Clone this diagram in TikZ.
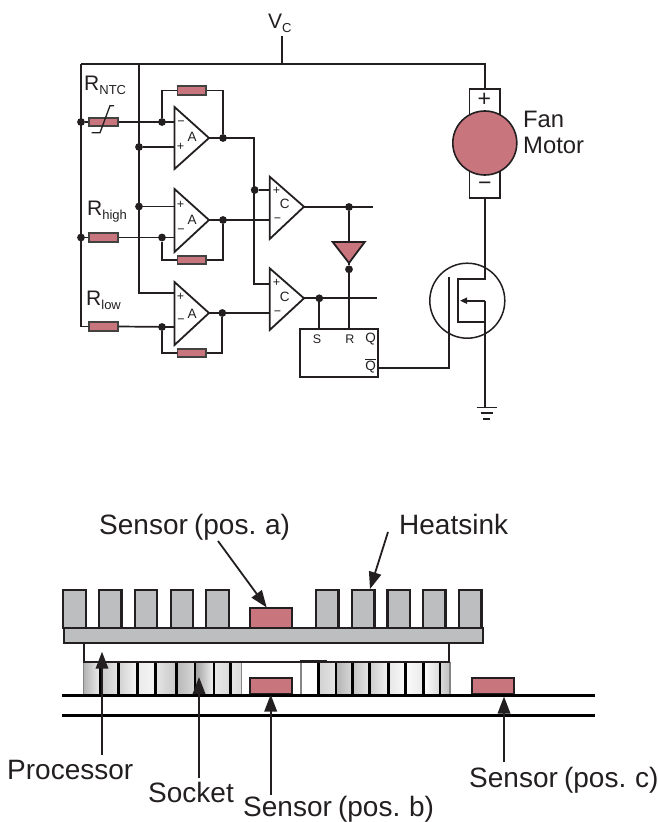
\documentclass[tikz,border=0pt]{standalone}
\usepackage{fontspec}
\setmainfont{Liberation Sans}
\usetikzlibrary{arrows.meta}
\definecolor{ink}{HTML}{231F20}
\definecolor{rose}{HTML}{C9757D}
\definecolor{fin}{HTML}{BCBEC0}
\newcommand{\fs}[1]{\fontsize{#1}{#1}\selectfont}
\newcommand{\sublabel}[2]{\fs{21}#1\raisebox{-4.5pt}{\fs{13}#2}}
\newcommand{\tight}{\kern-1.6pt}
\tikzset{
  wire/.style={draw=ink,line width=1.7pt},
  res/.style={draw=ink!85,fill=rose,line width=1.8pt,minimum width=28.5pt,minimum height=8.5pt,inner sep=0pt},
  dot/.style={circle,fill=ink,minimum size=7.8pt,inner sep=0pt},
  amp/.style={draw=ink,line width=1.8pt,fill=white,line join=miter},
  sgn/.style={text=ink,inner sep=0pt,font=\fs{12.5}},
  big/.style={text=ink,inner sep=0pt,font=\fs{28},anchor=base west},
  mid/.style={text=ink,inner sep=0pt,font=\fs{23.8},anchor=base west},
  lab/.style={text=ink,inner sep=0pt,anchor=base west},
  ptr/.style={draw=ink,line width=1.8pt,-{Triangle[length=17pt,width=12.5pt]}},
  finbox/.style={draw=ink,fill=fin,line width=2.3pt},
  board/.style={draw=black,line width=3pt},
  pin/.style={draw=black,line width=2.6pt},
  sens/.style={draw=ink,fill=rose,line width=2.2pt},
}
\begin{document}
\begin{tikzpicture}[x=1pt,y=-1pt]
\useasboundingbox (0,0) rectangle (658,822);
% ---- rails
\coordinate (tl) at (81,64);
\coordinate (tm) at (139,64);
\coordinate (tv) at (282,64);
\coordinate (tr) at (484.8,64);
\coordinate (vtop) at (282,36);
\node[lab] (vc) at (268,28) {\sublabel{V}{C}};
\draw[wire] (vtop) -- (tv);
\draw[wire] (tl) -- (tr) -- (484.8,89);
% resistors
\node[res] (rn) at (103.5,122) {};
\node[res] (rh) at (103.5,237.5) {};
\node[res] (rl) at (103.5,326.5) {};
\node[res] (f1) at (191.7,90.5) {};
\node[res] (f2) at (191.7,260) {};
\node[res] (f3) at (191.7,353) {};
% dots
\node[dot] (d1) at (81,122) {};
\node[dot] (d2) at (81,237.5) {};
\node[dot] (i1) at (162,122) {};
\node[dot] (i2) at (162,237.5) {};
\node[dot] (i3) at (162,327) {};
\node[dot] (p1) at (139,147) {};
\node[dot] (p2) at (139,206.5) {};
\node[dot] (o1) at (223,138) {};
\node[dot] (o2) at (223,220) {};
\node[dot] (o3) at (222.3,313) {};
\node[dot] (j1) at (254.7,190) {};
\node[dot] (q1) at (349,207) {};
\node[dot] (q2) at (319.3,298.3) {};
\node[dot] (q3) at (349,269.3) {};
% left rail and second rail
\draw[wire] (tl) -- (81,326.5) -- (rl.west);
\draw[wire] (tm) -- (139,293.3) -- (174.5,293.3);
\draw[wire] (d1) -- (rn.west);
\draw[wire] (d2) -- (rh.west);
\draw[wire] (rn.east) -- (174.5,122);
\draw[wire] (rh.east) -- (174.5,237.5);
\draw[wire] (rl.east) -- (174.5,327);
\draw[wire] (p1) -- (174.5,147);
\draw[wire] (p2) -- (174.5,206.5);
% feedback
\draw[wire] (i1) |- (f1.west);
\draw[wire] (f1.east) -| (o1);
\draw[wire] (i2) |- (f2.west);
\draw[wire] (f2.east) -| (o2);
\draw[wire] (i3) |- (f3.west);
\draw[wire] (f3.east) -| (o3);
% thermistor slash
\draw[wire,line width=1.3pt] (91.7,132.7) -- (100,132.7) -- (110,105.7) -- (114,105.7);
% op-amp outputs
\draw[wire] (209,138) -- (253.7,138) -- (253.7,284) -- (269.7,284);
\draw[wire] (j1) -- (269.7,190);
\draw[wire] (209,220) -- (269.7,220);
\draw[wire] (209,313) -- (269.7,313);
% op-amps
\draw[amp] (174.5,107) coordinate (a1t) -- (209,138) coordinate (a1o) -- (174.5,169) -- cycle;
\draw[amp] (174.5,189) coordinate (a2t) -- (209,220) coordinate (a2o) -- (174.5,252) -- cycle;
\draw[amp] (174.5,282) coordinate (a3t) -- (209,313) coordinate (a3o) -- (174.5,345) -- cycle;
\draw[amp] (269.7,176.7) -- (304,206.7) coordinate (c1o) -- (269.7,239) -- cycle;
\draw[amp] (269.7,268.3) -- (304,298.3) coordinate (c2o) -- (269.7,330) -- cycle;
\foreach \n/\x/\y/\t in {a/192/136.7/A,b/192/220.3/A,c/192/313.5/A,d/284.7/204/C,e/284.7/296.5/C}{
  \node[sgn,font=\fs{13.5}] (t\n) at (\x,\y) {\t};
}
\foreach \n/\x/\y/\t in {a/181/123/−,b/180.5/146.5/+,c/180.5/204.5/+,d/181/231/−,e/180.5/297/+,f/181/321/−,g/276.5/190.5/+,h/277.5/220/−,i/276.5/283/+,j/277.5/313/−}{
  \node[sgn] (s\n) at (\x,\y) {\t};
}
% R labels
\node[lab] (lrn) at (84,90) {\sublabel{R}{NTC}};
\node[lab] (lrh) at (87,215) {\sublabel{R}{high}};
\node[lab] (lrl) at (86,305) {\sublabel{R}{low}};
% comparator outputs and logic
\coordinate (e1) at (372.7,206.7);
\coordinate (e2) at (376.7,298.3);
\draw[wire] (c1o) -- (e1);
\draw[wire] (c2o) -- (e2);
\node[draw=ink,line width=1.7pt,fill=white,minimum width=78pt,minimum height=47.4pt,inner sep=0pt] (ff) at (339,353) {};
\draw[wire] (q2) -- (q2 |- ff.north);
\draw[wire] (q3) -- (q3 |- ff.north);
\draw[wire] (q1) -- (349,242);
\draw[draw=ink,fill=rose,line width=1.8pt] (332.7,242) -- (364.7,242) -- (349,263) -- cycle;
\draw[wire] (349,263) -- (q3);
\node[sgn] (ls) at (317,339) {S};
\node[sgn] (lr) at (350,339) {R};
\node[sgn,font=\fs{13.5}] (lq) at (370.5,339) {Q};
\node[sgn,font=\fs{13.5}] (lnq) at (370.5,366) {$\overline{\hbox{Q}}$};
% gate
\coordinate (g) at (448.7,277.3);
\draw[wire] (ff.east |- 0,368) -- (448.7,368) -- (g);
% motor
\node[draw=ink,line width=1.7pt,fill=white,minimum width=30.7pt,minimum height=108.7pt,inner sep=0pt] (mbox) at (484.8,143.3) {};
\node[circle,draw=ink,fill=rose,line width=1.6pt,minimum size=64pt,inner sep=0pt] (motor) at (484.8,143) {};
\node[text=ink,inner sep=0pt,font=\fs{23}] (mp) at (484.3,99.5) {+};
\node[text=ink,inner sep=0pt,font=\fs{23}] (mm) at (484.8,186) {−};
\node[mid] (fan) at (523,127) {Fan};
\node[mid] (mot) at (523,153) {Motor};
% mosfet
\node[circle,draw=ink,line width=1.5pt,minimum size=75pt,inner sep=0pt] (fet) at (467.3,300.7) {};
\draw[wire] (mbox.south) -- (484.8,279.3) -- (457.7,279.3) -- (457.7,321.7) -- (486,321.7);
\coordinate (gnd) at (484.8,407);
\draw[wire] (gnd) -- (484.8,300.7);
\draw[draw=ink,line width=1.6pt,-{Triangle[length=7pt,width=6pt]}] (484.8,300.7) -- (460,300.7);
\draw[wire] (476.7,407.5) -- (496.7,407.5);
\draw[wire] (480.5,413) -- (492.5,413);
\draw[wire] (483,419) -- (489.5,419);
% ---- heatsink
\foreach \n/\a in {1/63.3,2/99,3/134.7,4/170.7,5/206.3,6/316,7/352,8/387.5,9/423,10/459}{
  \path[finbox] (\a,590) rectangle ++(22.4,38.3);
}
\path[finbox] (64,628.3) rectangle (482.7,643.3);
\path[sens] (250,608.3) rectangle (292.3,628.3);
% ---- socket cells
\foreach \a/\b/\l/\r in {83.3/100/70/93,100/118.3/78/90,118.3/137.3/82/96,137.3/155.7/92/96,155.7/176.7/90/78,176.7/195/72/85,195/214/62/96,214/230.7/91/85,230.7/241.7/90/85,
  301/318.3/100/100,318.3/336/82/90,336/352.3/70/85,352.3/369.3/76/90,369.3/388.3/80/95,388.3/405.7/90/98,405.7/423.3/98/92,423.3/440/100/85,440/450/85/75}{
  \fill[left color=black!\fpeval{100-\l}!white,right color=black!\fpeval{100-\r}!white,draw=none] (\a,661.7) rectangle (\b,694.5);
}
\draw[fin!70!black,line width=1.2pt] (83.3,662) -- (83.3,694);
\draw[fin!70!black,line width=1.2pt] (241.7,662) -- (241.7,694);
\draw[fin!70!black,line width=1.2pt] (301,662) -- (301,694);
\draw[fin!70!black,line width=1.2pt] (450,662) -- (450,694);
\foreach \x in {100,118.3,137.3,155.7,176.7,195,214,230.7,318.3,336,352.3,369.3,388.3,405.7,423.3,440}{
  \draw[pin] (\x,661.7) -- (\x,695);
}
% processor outline
\draw[draw=ink,line width=1.7pt] (84.3,643.3) -- (84.3,661.7) -- (449,661.7) -- (449,643.3);
\draw[draw=ink,line width=3.2pt] (300,661.7) -- (326.7,661.7);
% sensors
\path[sens] (250,678.3) rectangle (292.3,694.2);
\path[sens] (471.7,678.3) rectangle (514,694.2);
% board
\coordinate (b1l) at (62,695.3);
\coordinate (b1r) at (595,695.3);
\coordinate (b2l) at (62,715.3);
\coordinate (b2r) at (595,715.3);
\draw[board] (b1l) -- (b1r);
\draw[board] (b2l) -- (b2r);
% labels
\node[big] (sa) at (99,534) {Sensor \tight(pos. \tight a)};
\node[big] (hs) at (399,534) {Heatsink};
\node[big] (pr) at (7,779) {Processor};
\node[big] (so) at (148,802) {Socket};
\node[big] (sb) at (243,816) {Sensor \tight(pos. \tight b)};
\node[big] (sc) at (469,787) {Sensor \tight(pos. \tight c)};
% pointers
\draw[ptr] (218,541) -- (266.7,607.5);
\draw[ptr] (388,532) -- (370,589);
\draw[ptr] (102,755) -- (102,651.7);
\draw[ptr] (199,778) -- (199,677);
\draw[ptr] (270.7,795) -- (270.7,694.5);
\draw[ptr] (504,762) -- (504,696.5);
\end{tikzpicture}
\end{document}
